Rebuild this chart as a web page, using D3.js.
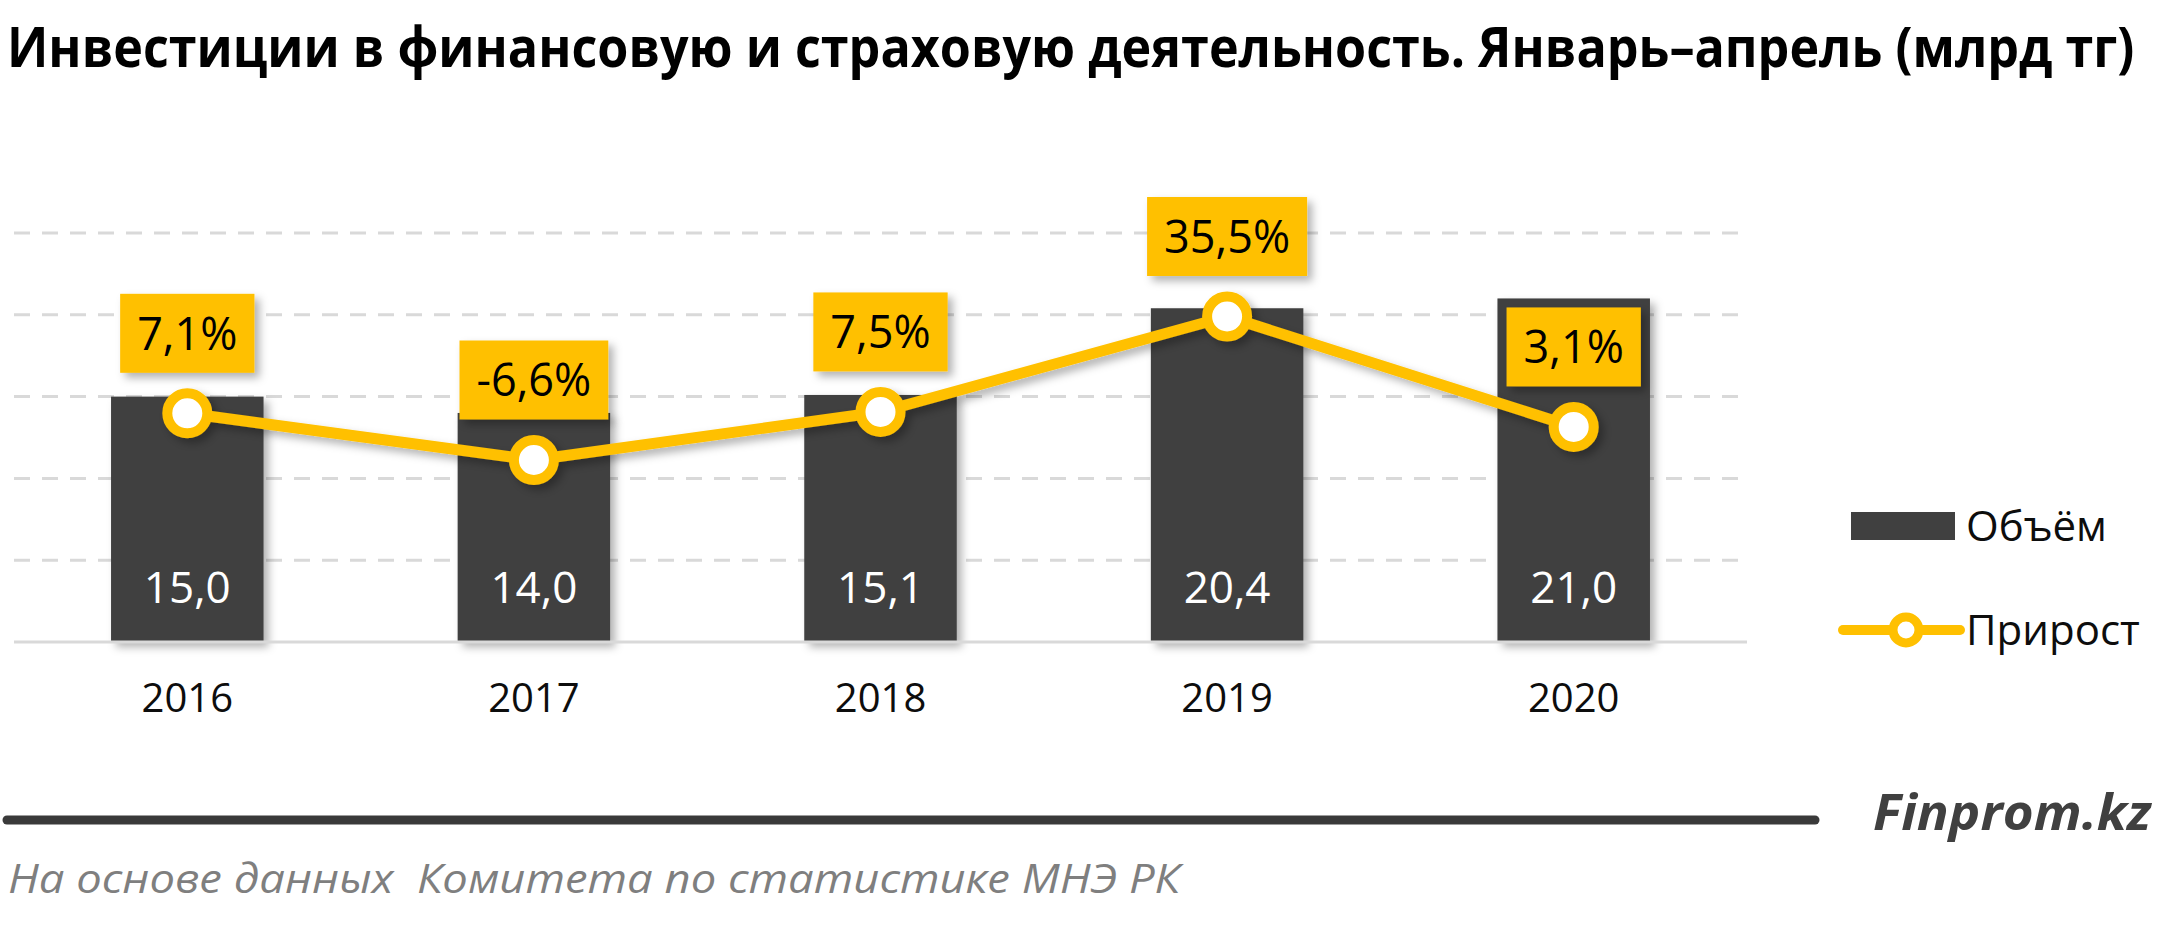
<!DOCTYPE html>
<html>
<head>
<meta charset="utf-8">
<script src="https://cdn.jsdelivr.net/npm/d3@7"></script>
<style>
  html, body { margin: 0; padding: 0; background: #fff; }
  #chart { width: 2160px; height: 925px; }
  text { font-family: "Open Sans", "Noto Sans", sans-serif; }
</style>
</head>
<body>
<div id="chart"></div>
<script>
// Data
var years = ["2016", "2017", "2018", "2019", "2020"];
var volume = [15.0, 14.0, 15.1, 20.4, 21.0];     // Объём, млрд тг
var growth = [7.1, -6.6, 7.5, 35.5, 3.1];        // Прирост, %
var gridTicks = [5, 10, 15, 20, 25];

var titleText = "Инвестиции в финансовую и страховую деятельность. Январь–апрель (млрд тг)";
var sourceText = "На основе данных  Комитета по статистике МНЭ РК";

var gold = "#FFC000";
var dark = "#404040";

function fmt(v, d) {
    return v.toFixed(d).replace(".", ",");
}

var svg = d3.select("#chart").append("svg")
    .attr("width", 2160)
    .attr("height", 925);

// drop shadow used by bars, line and label boxes
var defs = svg.append("defs");
var shadow = defs.append("filter")
    .attr("id", "shadow")
    .attr("x", "-20%").attr("y", "-20%")
    .attr("width", "150%").attr("height", "150%");
shadow.append("feDropShadow")
    .attr("dx", 5).attr("dy", 5)
    .attr("stdDeviation", 4)
    .attr("flood-color", "#000")
    .attr("flood-opacity", 0.3);

// Scales
var x = d3.scaleBand()
    .domain(years)
    .range([14, 1747])
    .paddingInner(0.56)
    .paddingOuter(0.28);

var yBar = d3.scaleLinear()
    .domain([0, 25])
    .range([642, 233]);

var yLine = d3.scaleLinear()
    .domain([-60, 60])
    .range([642, 233]);

var bw = x.bandwidth();
function cx(i) { return x(years[i]) + bw / 2; }

// Title: squeezed horizontally with a transform so it fits the width
var titleG = svg.append("g");
var title = titleG.append("text")
    .attr("x", 0)
    .attr("y", 0)
    .style("font-size", "55px")
    .style("font-weight", 700)
    .attr("fill", "#000")
    .text(titleText);
var tw = title.node().getComputedTextLength();
titleG.attr("transform", "translate(7,67) scale(" + Math.min(1, 2128 / tw) + ",1)");

// Gridlines
svg.append("g")
    .selectAll("line")
    .data(gridTicks)
    .enter()
    .append("line")
    .attr("x1", 14)
    .attr("x2", 1747)
    .attr("y1", function(d) { return yBar(d); })
    .attr("y2", function(d) { return yBar(d); })
    .attr("stroke", "#d9d9d9")
    .attr("stroke-width", 3)
    .attr("stroke-dasharray", "16,12");

// Bars
svg.append("g")
    .attr("filter", "url(#shadow)")
    .selectAll("rect")
    .data(volume)
    .enter()
    .append("rect")
    .attr("x", function(d, i) { return x(years[i]); })
    .attr("y", function(d) { return yBar(d); })
    .attr("width", bw)
    .attr("height", function(d) { return yBar(0) - yBar(d); })
    .attr("fill", dark);

// Baseline
svg.append("line")
    .attr("x1", 14)
    .attr("x2", 1747)
    .attr("y1", yBar(0))
    .attr("y2", yBar(0))
    .attr("stroke", "#d9d9d9")
    .attr("stroke-width", 3);

// Bar values
svg.append("g")
    .selectAll("text")
    .data(volume)
    .enter()
    .append("text")
    .attr("x", function(d, i) { return cx(i); })
    .attr("y", yBar(0) - 39)
    .attr("text-anchor", "middle")
    .attr("fill", "#fff")
    .style("font-size", "44px")
    .text(function(d) { return fmt(d, 1); });

// Year labels
var xAxis = d3.axisBottom(x).tickSize(0).tickPadding(0);
var axisG = svg.append("g")
    .attr("transform", "translate(0," + yBar(0) + ")")
    .call(xAxis);
axisG.select(".domain").remove();
axisG.selectAll("text")
    .attr("y", 70)
    .attr("dy", 0)
    .attr("fill", "#0d0d0d")
    .style("font-size", "40px")
    .style("font-family", "'Open Sans', sans-serif");

// Growth line
var line = d3.line()
    .x(function(d, i) { return cx(i); })
    .y(function(d) { return yLine(d); });

var lineG = svg.append("g").attr("filter", "url(#shadow)");
lineG.append("path")
    .datum(growth)
    .attr("d", line)
    .attr("fill", "none")
    .attr("stroke", gold)
    .attr("stroke-width", 11)
    .attr("stroke-linejoin", "round");

lineG.selectAll("circle")
    .data(growth)
    .enter()
    .append("circle")
    .attr("cx", function(d, i) { return cx(i); })
    .attr("cy", function(d) { return yLine(d); })
    .attr("r", 20)
    .attr("fill", "#fff")
    .attr("stroke", gold)
    .attr("stroke-width", 10);

// Growth labels in yellow boxes
var labels = svg.append("g")
    .selectAll("g")
    .data(growth)
    .enter()
    .append("g")
    .attr("transform", function(d, i) {
        return "translate(" + cx(i) + "," + (yLine(d) - 80) + ")";
    });

var boxes = labels.append("rect")
    .attr("fill", gold)
    .attr("filter", "url(#shadow)");

var labelText = labels.append("text")
    .attr("text-anchor", "middle")
    .attr("dy", "0.36em")
    .attr("fill", "#000")
    .style("font-size", "45px")
    .text(function(d) { return fmt(d, 1) + "%"; });

labelText.each(function(d, i) {
    var w = this.getComputedTextLength() + 34;
    d3.select(boxes.nodes()[i])
        .attr("x", -w / 2)
        .attr("y", -39.5)
        .attr("width", w)
        .attr("height", 79);
});

// Legend
var legend = svg.append("g");
legend.append("rect")
    .attr("x", 1851).attr("y", 512)
    .attr("width", 104).attr("height", 28)
    .attr("fill", dark);
legend.append("text")
    .attr("x", 1966).attr("y", 526)
    .attr("dy", "0.36em")
    .style("font-size", "42px")
    .attr("fill", "#0d0d0d")
    .text("Объём");
legend.append("line")
    .attr("x1", 1843).attr("x2", 1960)
    .attr("y1", 630).attr("y2", 630)
    .attr("stroke", gold)
    .attr("stroke-width", 10)
    .attr("stroke-linecap", "round");
legend.append("circle")
    .attr("cx", 1906).attr("cy", 630)
    .attr("r", 13)
    .attr("fill", "#fff")
    .attr("stroke", gold)
    .attr("stroke-width", 9);
legend.append("text")
    .attr("x", 1966).attr("y", 630)
    .attr("dy", "0.36em")
    .style("font-size", "42px")
    .attr("fill", "#0d0d0d")
    .text("Прирост");

// Footer
svg.append("line")
    .attr("x1", 7).attr("x2", 1815)
    .attr("y1", 820).attr("y2", 820)
    .attr("stroke", "#3a3a3a")
    .attr("stroke-width", 9)
    .attr("stroke-linecap", "round");

svg.append("text")
    .attr("x", 1873)
    .attr("y", 830)
    .attr("textLength", 278)
    .attr("lengthAdjust", "spacingAndGlyphs")
    .style("font-size", "50px")
    .style("font-weight", 700)
    .style("font-style", "italic")
    .attr("fill", dark)
    .text("Finprom.kz");

svg.append("text")
    .attr("x", 8)
    .attr("y", 893)
    .attr("textLength", 1172)
    .attr("lengthAdjust", "spacingAndGlyphs")
    .style("font-size", "41px")
    .style("font-style", "italic")
    .style("white-space", "pre")
    .attr("fill", "#7f7f7f")
    .text(sourceText);
</script>
</body>
</html>
